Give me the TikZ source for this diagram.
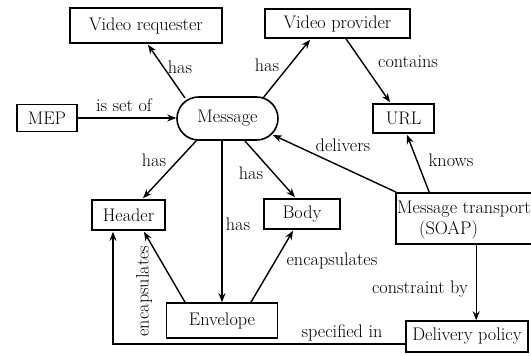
\documentclass[tikz,border=0pt]{standalone}
\usetikzlibrary{arrows.meta,calc,shapes.misc}

\tikzset{
  txt/.style={font=\fontsize{18.2}{21}\selectfont},
  box/.style={txt, draw, line width=1.6pt, inner sep=0pt, minimum width=#1},
  msgbox/.style={txt, draw, line width=1.6pt, rounded rectangle, inner sep=0pt,
    minimum width=101pt, minimum height=43pt},
  lbl/.style={txt, inner sep=0pt},
  arr/.style={line width=1.4pt, -{Stealth[length=9pt,width=7pt]}},
}

\begin{document}
\begin{tikzpicture}[x=1pt,y=-1pt]
\useasboundingbox (0,0) rectangle (531,356);
\clip (0,0) rectangle (531,356);

% concepts
\node[box=152pt, minimum height=35pt] (vr)   at (146,25.5)  {Video requester};
\node[box=145pt, minimum height=29pt] (vp)   at (337.5,23.5) {Video provider};
\node[box=61pt,  minimum height=29pt] (url)  at (403.5,118.5) {URL};
\node[box=60pt,  minimum height=27pt] (mep)  at (47,118)    {MEP};
\node[msgbox]                         (msg)  at (227.5,118.5) {Message};
\node[box=73pt,  minimum height=30pt] (hd)   at (128.5,215) {Header};
\node[box=76pt,  minimum height=30pt] (body) at (302,214)   {Body};
\node[box=111pt, minimum height=35pt] (env)  at (222,320.5) {Envelope};
\node[box=174pt, minimum height=51pt] (mt)   at (483,218.5) {};
\node[lbl, anchor=west] (mt1) at (397,209) {Message transport};
\node[lbl] (mt2) at (448.5,230) {(SOAP)};
\node[box=122pt, minimum height=31pt] (dp)   at (467,336.5) {Delivery policy};

% relations
\draw[arr] ($(msg.center)+(-42.5,-20.5)$) -- ($(vr.south)+(2,1)$);
\node[lbl] (l1) at (180,67) {has};

\draw[arr] ($(msg.center)+(35.5,-20.5)$) -- ($(vp.south)+(-27.5,1)$);
\node[lbl] (l2) at (267,65) {has};

\draw[arr] ($(vp.south)+(8.5,0)$) -- ($(url.north)+(-13.5,-1)$);
\node[lbl] (l3) at (408,62) {contains};

\draw[arr] (mep.east) -- (msg.west |- mep.east);
\node[lbl] (l4) at (124,105) {is set of};

\draw[arr] ($(msg.center)+(-30.5,21.5)$) -- ($(hd.north)+(14.5,-1)$);
\node[lbl] (l5) at (154,160) {has};

\draw[arr] ($(msg.center)+(17.5,22.5)$) -- ($(body.north)+(-7,-1)$);
\node[lbl] (l6) at (251,173) {has};

\draw[arr] (msg.south -| env.north) -- (env.north);
\node[lbl] (l7) at (238,224) {has};

\draw[arr] ($(env.north)+(-37,0)$) -- ($(hd.south)+(15.5,1)$);
\node[lbl, rotate=90] (l8) at (144,291) {encapsulates};

\draw[arr] ($(env.north)+(29,0)$) -- ($(body.south)+(-9,1)$);
\node[lbl] (l9) at (332,261) {encapsulates};

\draw[arr] ($(mt.north west)+(1,0)$) -- ($(msg.center)+(45.5,16.5)$);
\node[lbl] (l10) at (343,145) {delivers};

\draw[arr] ($(mt.north west)+(34,0)$) -- ($(url.south)+(3.5,1)$);
\node[lbl] (l11) at (451,160) {knows};

\draw[arr] ($(mt.south west)+(81,0)$) coordinate (cb) -- (dp.north -| cb);
\node[lbl] (l12) at (420,289) {constraint by};

\draw[arr] ($(dp.west)+(0,7.5)$) -| ($(hd.south)+(-15.5,1)$);
\node[lbl] (l13) at (342,333) {specified in};
\end{tikzpicture}
\end{document}
